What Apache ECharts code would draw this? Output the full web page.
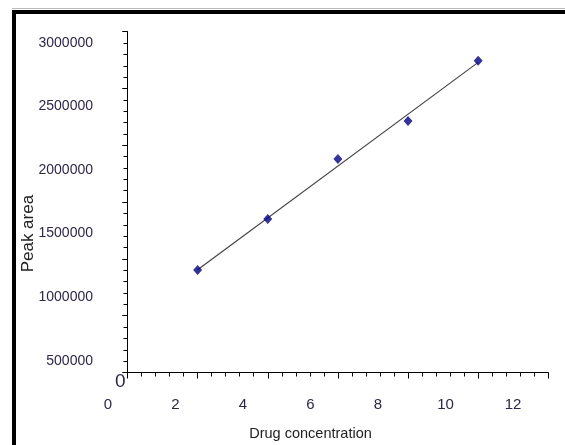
<!DOCTYPE html>
<html>
<head>
<meta charset="utf-8">
<script src="https://cdn.jsdelivr.net/npm/echarts@6/dist/echarts.min.js"></script>
<style>html,body{margin:0;padding:0;background:#fff;}#c{width:565px;height:445px;}</style>
</head>
<body>
<div id="c"></div>
<script>
const concentration = [2, 4, 6, 8, 10];
const peakArea = [902000, 1351000, 1879000, 2214000, 2745000];
const trendX = [2, 10];
const trendY = [905000, 2730000];
const yTicks = [0, 500000, 1000000, 1500000, 2000000, 2500000, 3000000];
const xTicks = [0, 2, 4, 6, 8, 10, 12];

const FONT = '"Liberation Sans", Arial, sans-serif';
const TXT = '#2e2646';

const chart = echarts.init(document.getElementById('c'), null, {renderer: 'canvas'});
const yMax = yTicks[yTicks.length - 1], xMax = xTicks[xTicks.length - 1];

chart.setOption({
  animation: false,
  backgroundColor: '#fff',
  graphic: [
    {type: 'rect', shape: {x: 12, y: 10, width: 4, height: 435}, style: {fill: '#000'}, z: 100},
    {type: 'rect', shape: {x: 12, y: 10, width: 553, height: 4}, style: {fill: '#000'}, z: 100},
    {type: 'rect', shape: {x: 12, y: 8, width: 553, height: 1}, style: {fill: '#bbb'}, z: 100}
  ],
  grid: [
    {left: 127.5, right: 16.7, top: 31.7, bottom: 72.5},
    {left: 101, right: 16.7, top: 42.7, bottom: 20.5},
    {left: 108, right: 52, top: 300, bottom: 49}
  ],
  xAxis: [
    {gridIndex: 0, type: 'value', min: 0, max: xMax, interval: 2,
     axisLine: {show: true, lineStyle: {color: '#000', width: 1}},
     axisTick: {show: true, inside: false, length: 6, lineStyle: {color: '#000'}},
     minorTick: {show: false}, axisLabel: {show: false}, splitLine: {show: false}},
    {gridIndex: 0, type: 'value', min: 0, max: xMax, interval: 2,
     axisLine: {show: false}, axisTick: {show: false, inside: true},
     minorTick: {show: true, splitNumber: 5, length: 4, lineStyle: {color: '#000'}},
     axisLabel: {show: false}, splitLine: {show: false}},
    {gridIndex: 1, type: 'value', show: false, min: 0, max: 1},
    {gridIndex: 2, type: 'value', min: 0, max: xMax, interval: 2,
     axisLine: {show: false}, axisTick: {show: false}, splitLine: {show: false},
     axisLabel: {show: true, margin: 1, fontFamily: FONT, fontSize: 15, color: TXT},
     name: 'Drug concentration', nameLocation: 'middle', nameGap: 30,
     nameTextStyle: {fontFamily: FONT, fontSize: 14.5, color: '#222'}}
  ],
  yAxis: [
    {gridIndex: 0, type: 'value', min: 0, max: yMax, interval: 500000,
     axisLine: {show: true, lineStyle: {color: '#000', width: 1}},
     axisTick: {show: true, inside: false, length: 5, lineStyle: {color: '#000'}},
     minorTick: {show: false}, splitLine: {show: false},
     axisLabel: {show: true, margin: 2, verticalAlign: 'top',
       formatter: v => v === 0 ? '0' : '',
       fontFamily: FONT, fontSize: 19, color: TXT}},
    {gridIndex: 0, type: 'value', min: 0, max: yMax, interval: 500000,
     axisLine: {show: false},
     axisTick: {show: true, inside: true, length: 5, lineStyle: {color: '#000'}},
     minorTick: {show: true, splitNumber: 5, length: 4, lineStyle: {color: '#000'}},
     axisLabel: {show: false}, splitLine: {show: false}},
    {gridIndex: 1, type: 'value', min: 0, max: yMax, interval: 500000,
     axisLine: {show: false}, axisTick: {show: false}, splitLine: {show: false},
     axisLabel: {show: true, margin: 8, showMinLabel: false,
       formatter: v => v === 0 ? '' : String(v),
       fontFamily: FONT, fontSize: 14, color: TXT},
     name: 'Peak area', nameLocation: 'middle', nameRotate: 90, nameGap: 64,
     nameMoveOverlap: false,
     nameTextStyle: {fontFamily: FONT, fontSize: 17, color: '#222'}},
    {gridIndex: 2, type: 'value', show: false, min: 0, max: 1}
  ],
  series: [
    {type: 'line', xAxisIndex: 0, yAxisIndex: 0,
     data: trendX.map((x, i) => [x, trendY[i]]),
     symbol: 'none', lineStyle: {color: '#444', width: 1.2}, z: 2},
    {type: 'scatter', xAxisIndex: 0, yAxisIndex: 0,
     data: concentration.map((x, i) => [x, peakArea[i]]),
     symbol: 'diamond', symbolSize: [9, 10],
     itemStyle: {color: '#000080'}, z: 3}
  ]
});
</script>
</body>
</html>
